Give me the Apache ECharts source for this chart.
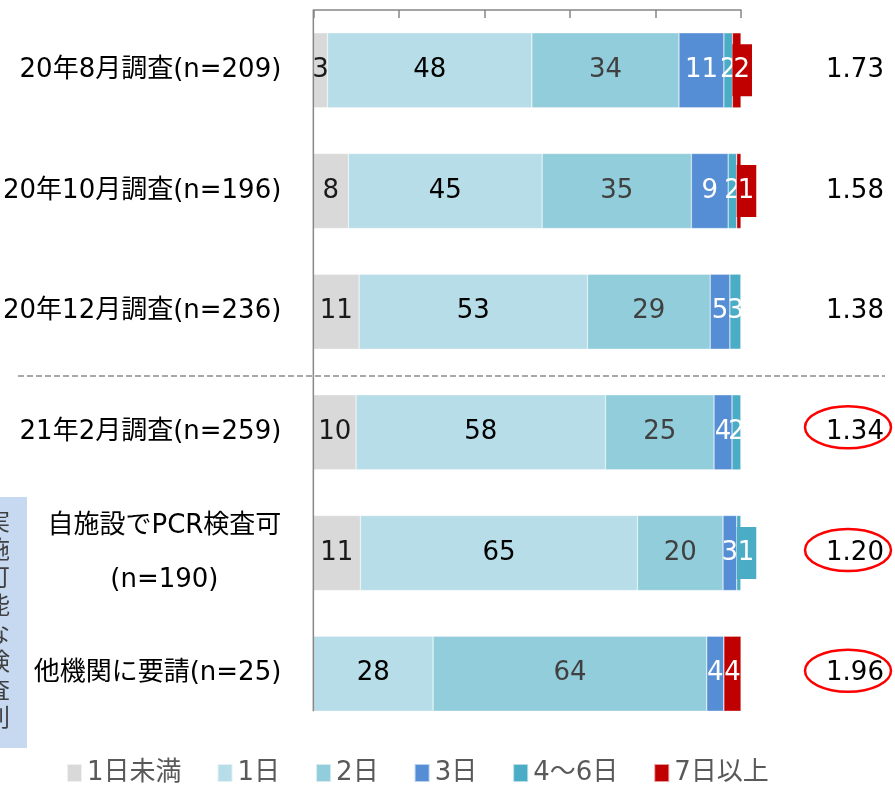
<!DOCTYPE html>
<html>
<head>
<meta charset="utf-8">
<script src="https://cdn.jsdelivr.net/npm/echarts@6/dist/echarts.min.js"></script>
<style>
html,body{margin:0;padding:0;background:#fff;}
#main{width:895px;height:787px;}
</style>
</head>
<body>
<div id="main"></div>
<script>
// ---- data ----
const categories = ['20年8月調査(n=209)', '20年10月調査(n=196)', '20年12月調査(n=236)', '21年2月調査(n=259)', '自施設でPCR検査可\n(n=190)', '他機関に要請(n=25)'];
const seriesNames = ['1日未満', '1日', '2日', '3日', '4～6日', '7日以上'];
const lessThan1 = [3.3, 8.2, 10.7, 10.0, 11.0, 0];
const day1 = [47.8, 45.3, 53.4, 58.3, 64.8, 28.0];
const day2 = [34.4, 34.9, 28.7, 25.4, 20.0, 64.0];
const day3 = [10.5, 8.6, 4.6, 4.2, 3.2, 4.0];
const day4to6 = [2.0, 2.0, 2.6, 2.1, 1.0, 0];
const day7plus = [2.0, 1.0, 0, 0, 0, 4.0];
const averages = ['1.73', '1.58', '1.38', '1.34', '1.20', '1.96'];
const circledRows = [3, 4, 5];
const sideNote = '実施可能な検査別';
// rows whose label is drawn as a filled box next to the segment
const boxedLabels = { '4～6日': [4], '7日以上': [0, 1] };

// ---- style ----
const FONT = '"DejaVu Sans", "Noto Sans CJK JP", sans-serif';
const colors = ['#d9d9d9', '#b7dde8', '#92cddc', '#558ed5', '#4bacc6', '#c00000'];
const labelColors = ['#1a1a1a', '#000000', '#404040', '#ffffff', '#ffffff', '#ffffff'];
const values = [lessThan1, day1, day2, day3, day4to6, day7plus];

const chart = echarts.init(document.getElementById('main'));

const series = seriesNames.map((name, si) => ({
  name: name,
  type: 'bar',
  stack: 'total',
  barWidth: 75,
  yAxisIndex: 0,
  itemStyle: { color: colors[si], borderColor: 'rgba(255,255,255,0.6)', borderWidth: 0.5 },
  label: {
    show: true,
    position: 'inside',
    fontSize: 26,
    fontFamily: FONT,
    color: labelColors[si],
    formatter: p => p.value > 0 ? String(Math.round(p.value)) : ''
  },
  data: values[si].map((v, ri) => {
    const boxed = (boxedLabels[name] || []).indexOf(ri) >= 0;
    if (!boxed) return v;
    return {
      value: v,
      label: {
        position: 'insideLeft',
        distance: 0,
        backgroundColor: colors[si],
        padding: [13, 2, 13, 1],
        color: '#ffffff'
      }
    };
  })
}));

const option = {
  animation: false,
  backgroundColor: '#ffffff',
  textStyle: { fontFamily: FONT },
  grid: { left: 312, right: 154, top: 10, bottom: 53, containLabel: false },
  legend: {
    left: 61,
    top: 755,
    icon: 'rect',
    itemWidth: 15,
    itemHeight: 18,
    itemGap: 35,
    textStyle: { fontSize: 26, color: '#595959', fontFamily: FONT },
    data: seriesNames
  },
  xAxis: {
    type: 'value',
    position: 'top',
    min: 0,
    max: 100,
    interval: 20,
    axisLine: { show: true, lineStyle: { color: '#878787', width: 1.5 } },
    axisTick: { show: true, inside: true, length: 8, lineStyle: { color: '#878787', width: 1.5 } },
    axisLabel: { show: false },
    splitLine: { show: false }
  },
  yAxis: [
    {
      type: 'category',
      data: categories,
      inverse: true,
      axisLine: { show: false },
      axisTick: { show: false },
      axisLabel: {
        margin: 32,
        fontSize: 26,
        color: '#000000',
        fontFamily: FONT,
        formatter: v => v.indexOf('\n') >= 0
          ? v.split('\n').map(s => '{c|' + s + '}').join('\n')
          : v,
        rich: {
          c: { fontSize: 26, color: '#000000', fontFamily: FONT, align: 'center', lineHeight: 54 }
        }
      }
    },
    {
      type: 'category',
      data: categories,
      inverse: true,
      position: 'right',
      axisLine: { show: false },
      axisTick: { show: false },
      axisLabel: {
        margin: 114,
        align: 'center',
        fontSize: 26,
        color: '#000000',
        fontFamily: FONT,
        formatter: (v, i) => averages[i]
      }
    }
  ],
  series: series
};

chart.setOption(option);

// decorations computed from the axes
const x0 = chart.convertToPixel({ xAxisIndex: 0 }, 0);
const rowY = categories.map(c => chart.convertToPixel({ yAxisIndex: 0 }, c));
const lastBottom = rowY[rowY.length - 1] + 37.5;
const sepY = (rowY[2] + rowY[3]) / 2 + 4;

const graphics = [
  {
    type: 'line',
    shape: { x1: x0, y1: 10, x2: x0, y2: lastBottom },
    style: { stroke: '#878787', lineWidth: 1.5 },
    z: 10
  },
  {
    type: 'line',
    shape: { x1: 18, y1: sepY, x2: 885, y2: sepY },
    style: { stroke: '#8c8c8c', lineWidth: 1.5, lineDash: [6, 3] },
    z: 10
  },
  {
    type: 'rect',
    shape: { x: 0, y: 497, width: 27, height: 251 },
    style: { fill: '#c6d9f1' },
    z: 5
  },
  {
    type: 'text',
    x: -2,
    y: 622,
    style: {
      text: sideNote.split('').join('\n'),
      fontSize: 24,
      lineHeight: 28,
      fill: '#404040',
      fontFamily: FONT,
      align: 'center',
      verticalAlign: 'middle'
    },
    z: 6
  }
];
circledRows.forEach(ri => {
  graphics.push({
    type: 'ellipse',
    shape: { cx: 848, cy: rowY[ri] - 3 + (ri === 3 ? -2 : 0), rx: 43, ry: 21 },
    style: { fill: 'none', stroke: '#ff0000', lineWidth: 2.5 },
    z: 10
  });
});
chart.setOption({ graphic: graphics });
</script>
</body>
</html>
